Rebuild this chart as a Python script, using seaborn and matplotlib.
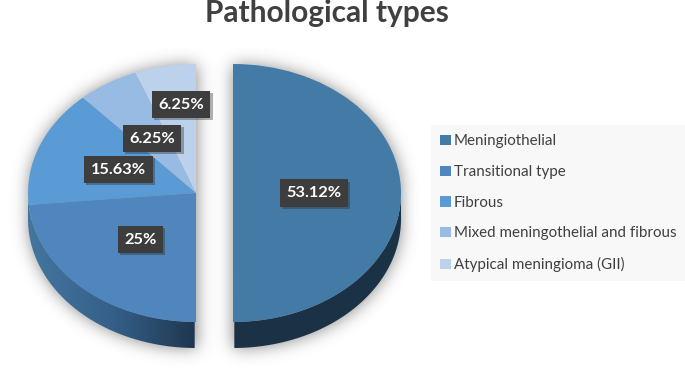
import numpy as np
import matplotlib
matplotlib.use('Agg')
import matplotlib.pyplot as plt
import matplotlib.patheffects as pe
from matplotlib.colors import LinearSegmentedColormap
from matplotlib.patches import Polygon
import seaborn as sns

categories = ['Meningiothelial', 'Transitional type', 'Fibrous',
              'Mixed meningothelial and fibrous', 'Atypical meningioma (GII)']
values = [53.12, 25, 15.63, 6.25, 6.25]
value_labels = ['53.12%', '25%', '15.63%', '6.25%', '6.25%']
colors = ['#447AA6', '#4F86BD', '#5B9BD5', '#97BBE2', '#BCD1EC']

sns.set_theme(style='white')
plt.rcParams['font.family'] = ['Lato', 'DejaVu Sans']

W, H = 685, 369
RX, RY, DEPTH = 168, 129, 26
SY = RX / RY


def py(p):
    # picture row -> data y, the axes squash y so the pie looks tilted
    return (H - p) * SY


fig = plt.figure(figsize=(W / 100, H / 100), dpi=100)
ax = fig.add_axes([0, 0, 1, 1])

cx_left, cx_right, cy = 196, 233, 193

# soft shadow behind the pie
gx, gy = np.meshgrid(np.arange(W), np.arange(H))
left = (gx <= cx_left) & (((gx - cx_left) / RX) ** 2 + ((gy - cy) / RY) ** 2 <= 1)
left |= (gx <= cx_left) & (gy >= cy) & (((gx - cx_left) / RX) ** 2 + ((gy - cy - DEPTH) / RY) ** 2 <= 1)
right = (gx >= cx_right) & (((gx - cx_right) / RX) ** 2 + ((gy - cy) / RY) ** 2 <= 1)
right |= (gx >= cx_right) & (gy >= cy) & (((gx - cx_right) / RX) ** 2 + ((gy - cy - DEPTH) / RY) ** 2 <= 1)
mask = (left | right).astype(float)
kx = np.exp(-0.5 * (np.arange(-30, 31) / 8.0) ** 2)
kx /= kx.sum()
blur = np.apply_along_axis(lambda r: np.convolve(r, kx, mode='same'), 1, mask)
blur = np.apply_along_axis(lambda c: np.convolve(c, kx, mode='same'), 0, blur)
shadow = np.zeros((H, W, 4))
shadow[..., :3] = 0.25
shadow[..., 3] = blur * 0.6
ax.imshow(shadow, extent=(0, W, py(H), py(0)), origin='upper', aspect='auto', zorder=1)

# pie side walls
t = np.linspace(np.pi, 2 * np.pi, 200)

t_left = t[:100]
wall_x = np.r_[cx_left + RX * np.cos(t_left), (cx_left + RX * np.cos(t_left))[::-1]]
wall_y = np.r_[py(cy - RY * np.sin(t_left)), py(cy + DEPTH - RY * np.sin(t_left))[::-1]]
wall_poly = Polygon(np.c_[wall_x, wall_y], closed=True, transform=ax.transData,
                    fc='none', ec='none')
ax.add_patch(wall_poly)
wall_cmap = LinearSegmentedColormap.from_list('wall', ['#44769F', '#35608A', '#1F364F'])
grad = ax.imshow(np.linspace(0, 1, 256).reshape(1, -1), cmap=wall_cmap, aspect='auto',
                 extent=(cx_left - RX, cx_left, py(cy + RY + DEPTH), py(cy)), zorder=2)
grad.set_clip_path(wall_poly)

t_right = t[100:]
ax.fill(np.r_[cx_right + RX * np.cos(t_right), (cx_right + RX * np.cos(t_right))[::-1]],
        np.r_[py(cy - RY * np.sin(t_right)), py(cy + DEPTH - RY * np.sin(t_right))[::-1]],
        color='#1B3146', lw=0, zorder=2)

# top of the pie, values are normalised by pie() as they add up to more than 100
wedges, _ = ax.pie(values, colors=colors, startangle=90, counterclock=False,
                   radius=RX, center=(cx_left, py(cy)),
                   explode=[cx_right - cx_left, 0, 0, 0, 0],
                   wedgeprops={'linewidth': 0, 'zorder': 3})

# hand placed data labels, same as the original
label_x = [314, 140.5, 118.5, 152, 181]
label_y = [193, 239.5, 169.5, 138.5, 104.5]
for s, lx, ly in zip(value_labels, label_x, label_y):
    txt = ax.text(lx, py(ly), s, color='white', fontsize=11.8, fontweight='bold',
                  ha='center', va='center', zorder=5,
                  bbox=dict(boxstyle='square,pad=0.4', fc='#3D3D3D', ec='none'))
    txt.get_bbox_patch().set_path_effects([
        pe.SimplePatchShadow(offset=(1.5, -1.5), shadow_rgbFace='#222222', alpha=0.35),
        pe.Normal()])

ax.set_aspect('auto')
ax.set_xlim(0, W)
ax.set_ylim(py(H), py(0))
ax.axis('off')

fig.text(327 / W, 1 - 13 / H, 'Pathological types', color='#404040', fontsize=21.5,
         fontweight='bold', ha='center', va='center')

leg = ax.legend(wedges, categories, loc='upper left',
                bbox_to_anchor=(431 / W, 1 - 281 / H, 254 / W, 156 / H),
                mode='expand', borderaxespad=0, frameon=True, fancybox=False,
                facecolor='#F8F8F8', edgecolor='none', framealpha=1,
                fontsize=10.9, labelcolor='#404040', handlelength=0.67, handleheight=0.67,
                handletextpad=0.2, labelspacing=1.1, borderpad=0.62)
leg.set_zorder(6)

fig.savefig('out.png', dpi=100)
plt.close(fig)
